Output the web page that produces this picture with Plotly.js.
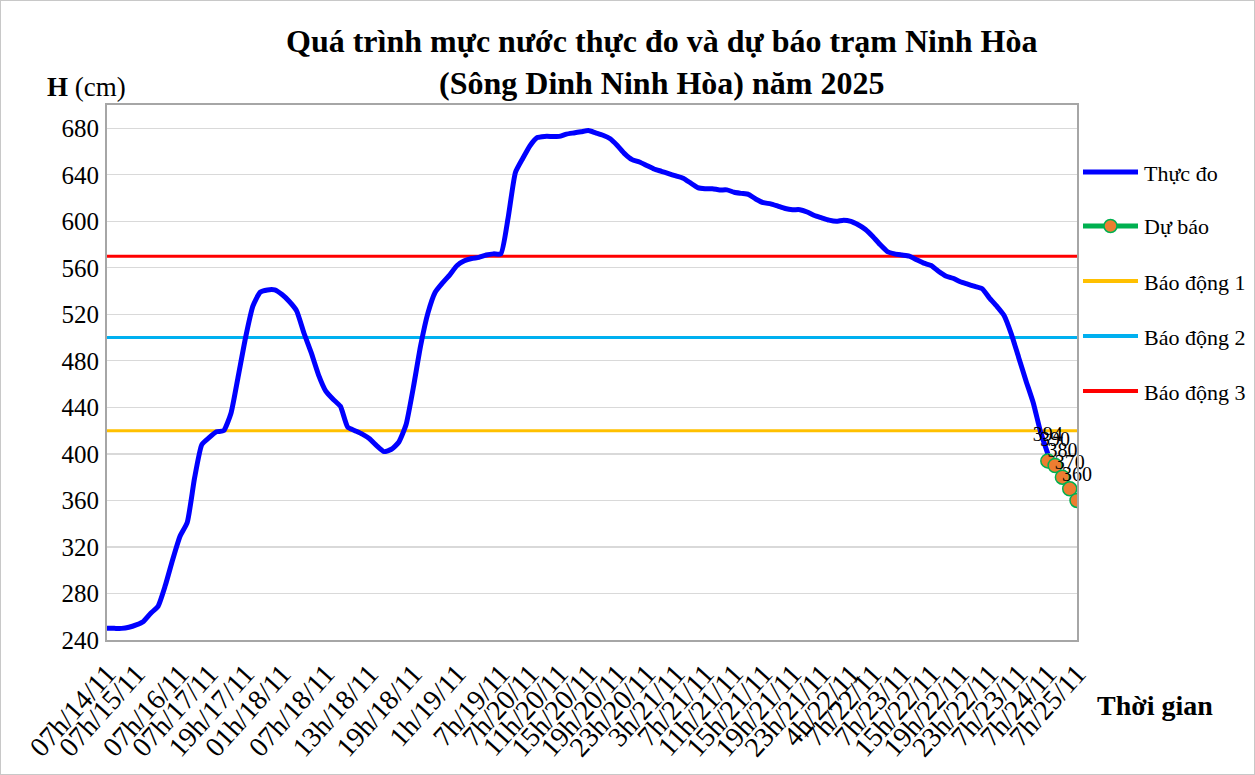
<!DOCTYPE html>
<html>
<head>
<meta charset="utf-8">
<script src="https://cdn.plot.ly/plotly-3.0.1.min.js"></script>
<style>
  html, body { margin: 0; padding: 0; background: #ffffff; }
  #chart { width: 1253px; height: 773px; border: 1px solid #c8c8c8; }
</style>
</head>
<body>
<div id="chart"></div>
<script>
// Tick labels of the category axis and the category index where each label sits
const tickLabels = ["07h/14/11","07h/15/11","07h/16/11","07h/17/11","19h/17/11","01h/18/11","07h/18/11","13h/18/11","19h/18/11","1h/19/11","7h/19/11","7h/20/11","11h/20/11","15h/20/11","19h/20/11","23h/20/11","3h/21/11","7h/21/11","11h/21/11","15h/21/11","19h/21/11","23h/21/11","4h/22/11","7h/22/11","7h/23/11","15h/22/11","19h/22/11","23h/22/11","7h/23/11","7h/24/11","7h/25/11"];
const tickIndex = [0,4,10,14,19,24,30,36,42,48,54,58,62,66,70,74,78,82,86,90,94,98,102,105,109,113,117,121,125,129,133];

// Observed water level (cm), one value per category from index 0
const observed = [250,250,250,251,253,256,263,269,287,309,329,341,379,408,414,419,420,435,467,500,
527,539,541,541,537,531,523,504,487,468,454,447,441,423,420,417,413,407,402,404,
410,425,457,493,521,539,547,554,562,566,568,569,571,572,572,603,642,654,665,672,
673,673,673,675,676,677,678,676,674,671,665,658,653,651,648,645,643,641,639,637,
633,629,628,628,627,627,625,624,623,619,616,615,613,611,610,610,608,605,603,601,
600,601,600,597,593,587,580,574,572,571,570,567,564,562,557,553,551,548,546,544,
542,534,527,519,503,483,463,444,419,400];

// Forecast (cm), starting at category index 129
const forecastStart = 129;
const forecast = [394,390,380,370,360];

// Alarm levels (cm)
const alarm1 = 420, alarm2 = 500, alarm3 = 570;
const lastIndex = 133;

// Legend entries
const legendNames = ['Thực đo', 'Dự báo', 'Báo động 1', 'Báo động 2', 'Báo động 3'];
const legendColors = ['#0000FF', '#00B050', '#FFC000', '#00B0F0', '#FF0000'];

const obsX = observed.map((v, i) => i);
const fcX = forecast.map((v, i) => forecastStart + i);

const serif = "Liberation Serif, Times New Roman, serif";

const tObs = {x: obsX, y: observed, type: 'scatter', mode: 'lines', name: legendNames[0],
   line: {color: legendColors[0], width: 5, shape: 'spline', smoothing: 0.5}};
const tFc = {x: fcX, y: forecast, type: 'scatter', mode: 'lines+markers', name: legendNames[1],
   line: {color: legendColors[1], width: 3.5},
   marker: {color: '#ED7D31', size: 14, line: {color: '#00B050', width: 1.5}}};
const tA1 = {x: [0, lastIndex], y: [alarm1, alarm1], type: 'scatter', mode: 'lines', name: legendNames[2],
   line: {color: legendColors[2], width: 3}};
const tA2 = {x: [0, lastIndex], y: [alarm2, alarm2], type: 'scatter', mode: 'lines', name: legendNames[3],
   line: {color: legendColors[3], width: 3}};
const tA3 = {x: [0, lastIndex], y: [alarm3, alarm3], type: 'scatter', mode: 'lines', name: legendNames[4],
   line: {color: legendColors[4], width: 3}};
const tLbl = {x: fcX, y: forecast, type: 'scatter', mode: 'markers+text', showlegend: false, hoverinfo: 'skip',
   marker: {size: 22, opacity: 0},
   text: forecast.map(String), textposition: 'top center', cliponaxis: false,
   textfont: {family: serif, size: 20, color: '#000000'}};

// manual legend (plot area: x 107..1077 px, y 105..640 px)
const pxX = px => (px - 107) / 970;
const pxY = py => (640 - py) / 535;
const legendY = [172, 226, 281, 336, 391];
const shapes = [];
const annotations = [];
legendNames.forEach((name, i) => {
  shapes.push({type: 'line', xref: 'paper', yref: 'paper',
    x0: pxX(1083), x1: pxX(1138), y0: pxY(legendY[i]), y1: pxY(legendY[i]),
    line: {color: legendColors[i], width: i < 2 ? 5 : 4}});
  annotations.push({text: name, xref: 'paper', yref: 'paper', x: pxX(1142), y: pxY(legendY[i] + 1),
    xanchor: 'left', yanchor: 'middle', showarrow: false,
    font: {family: serif, size: 22, color: '#000000'}});
});
shapes.push({type: 'circle', xref: 'paper', yref: 'paper',
  x0: pxX(1104), x1: pxX(1117), y0: pxY(232.5), y1: pxY(219.5),
  fillcolor: '#ED7D31', line: {color: '#00B050', width: 1.5}});

annotations.push(
  {text: '<b>Quá trình mực nước thực đo và dự báo trạm Ninh Hòa<br>(Sông Dinh Ninh Hòa) năm 2025</b>',
   xref: 'paper', yref: 'paper', x: pxX(661), y: 1.08, xanchor: 'center', yanchor: 'middle',
   showarrow: false, font: {family: serif, size: 32, color: '#000000'}},
  {text: '<b>H</b> (cm)', xref: 'paper', yref: 'paper', x: pxX(86), y: pxY(87),
   xanchor: 'center', yanchor: 'middle', showarrow: false,
   font: {family: serif, size: 27, color: '#000000'}},
  {text: '<b>Thời gian</b>', xref: 'paper', yref: 'paper', x: pxX(1155), y: pxY(705),
   xanchor: 'center', yanchor: 'middle', showarrow: false,
   font: {family: serif, size: 28, color: '#000000'}}
);

const layout = {
  width: 1253, height: 773,
  margin: {l: 106, r: 177, t: 104, b: 134},
  paper_bgcolor: '#ffffff', plot_bgcolor: '#ffffff',
  font: {family: serif, color: '#000000'},
  showlegend: false,
  xaxis: {
    range: [0, lastIndex],
    tickmode: 'array', tickvals: tickIndex, ticktext: tickLabels,
    tickangle: -48, tickfont: {family: serif, size: 28, color: '#000000'},
    showgrid: false, zeroline: false,
    showline: true, mirror: true, linecolor: '#a6a6a6', linewidth: 2,
    ticks: '', ticklabelstandoff: 4, automargin: false
  },
  yaxis: {
    range: [240, 700],
    tickmode: 'array', tickvals: [240,280,320,360,400,440,480,520,560,600,640,680],
    tickfont: {family: serif, size: 25, color: '#000000'},
    showgrid: true, gridcolor: '#d9d9d9', gridwidth: 1.2, zeroline: false,
    showline: true, mirror: true, linecolor: '#a6a6a6', linewidth: 2,
    ticks: '', ticklabelstandoff: 1, automargin: false
  },
  shapes: shapes,
  annotations: annotations
};

Plotly.newPlot('chart', [tA1, tA2, tA3, tObs, tFc, tLbl], layout, {displayModeBar: false, staticPlot: true});
</script>
</body>
</html>
